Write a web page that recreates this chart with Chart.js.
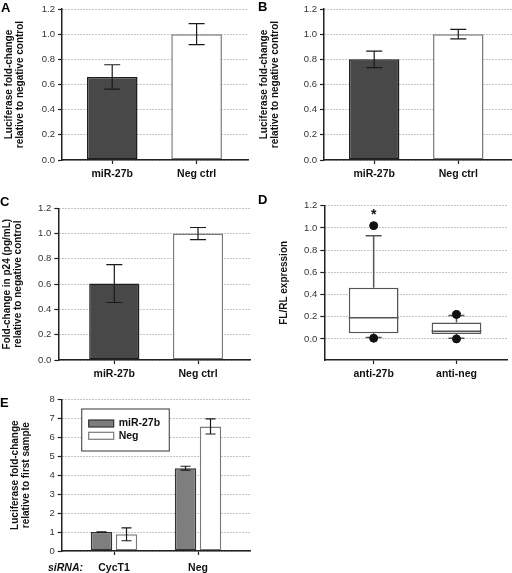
<!DOCTYPE html>
<html>
<head>
<meta charset="utf-8">
<script src="https://cdn.jsdelivr.net/npm/chart.js@4.4.1/dist/chart.umd.min.js"></script>
<style>
  body { margin: 0; background: #fff; }
  #fig { position: relative; width: 512px; height: 573px; font-family: "Liberation Sans", Arial, sans-serif; }
  #fig canvas { position: absolute; }
  .tag { position: absolute; font-weight: bold; font-size: 13px; line-height: 13px; color: #000; }
  .sirna { position: absolute; font-weight: bold; font-style: italic; font-size: 10.5px; line-height: 12px; color: #111; }
</style>
</head>
<body>
<div id="fig">
  <canvas id="chartA" width="256" height="190" style="left:0;top:0"></canvas>
  <canvas id="chartB" width="256" height="190" style="left:256px;top:0"></canvas>
  <canvas id="chartC" width="256" height="190" style="left:0;top:190px"></canvas>
  <canvas id="chartD" width="256" height="190" style="left:256px;top:190px"></canvas>
  <canvas id="chartE" width="256" height="193" style="left:0;top:380px"></canvas>
  <div class="tag" style="left:1px;top:1px">A</div>
  <div class="tag" style="left:258px;top:0px">B</div>
  <div class="tag" style="left:0px;top:195px">C</div>
  <div class="tag" style="left:258px;top:193px">D</div>
  <div class="tag" style="left:0px;top:396px">E</div>
  <div class="sirna" style="left:48px;top:561px">siRNA:</div>
</div>
<script>
// panels A-C: two bars each
const barLabels = ["miR-27b", "Neg ctrl"];
const lucA = [0.66, 1.0];
const lucAErr = [0.097, 0.083];
const lucB = [0.8, 1.0];
const lucBErr = [0.066, 0.038];
const p24C = [0.605, 1.0];
const p24CErr = [0.15, 0.048];
const fracTicks = [0, 0.2, 0.4, 0.6, 0.8, 1.0, 1.2];

// panel D: box plot
const boxLabels = ["anti-27b", "anti-neg"];
const boxLow = [0.012, 0.005];
const boxQ1 = [0.05, 0.045];
const boxMedian = [0.19, 0.07];
const boxQ3 = [0.46, 0.147];
const boxHigh = [0.93, 0.21];
const outlierGroup = [0, 0, 1, 1];
const outlierValue = [1.02, 0.006, 0.22, 0.0];
const starAt = [1.14, null];

// panel E
const siRNALabels = ["CycT1", "Neg"];
const mirValues = [1.0, 4.37];
const mirErr = [0.015, 0.1];
const negValues = [0.88, 6.57];
const negErr = [0.34, 0.4];
const foldTicks = [0, 1, 2, 3, 4, 5, 6, 7, 8];

Chart.defaults.font.family = "'Liberation Sans', Arial, sans-serif";
Chart.defaults.animation = false;

const tickFont = { size: 9.5 };
const catFont = { size: 10.5, weight: "bold" };

function xAxis(labels, min, max, height, pad) {
  return {
    type: "linear",
    offset: false,
    min: min,
    max: max,
    afterBuildTicks: s => { s.ticks = labels.map((_, i) => ({ value: i })); },
    afterFit: s => { s.height = height; },
    grid: { offset: false, drawOnChartArea: false, tickLength: 4, tickColor: "#222", tickWidth: 1.2 },
    border: { color: "#222", width: 1.5, z: 1 },
    ticks: { callback: v => labels[v], padding: pad, font: catFont, color: "#111", maxRotation: 0, autoSkip: false },
  };
}

function yAxis(min, max, tickVals, digits, title, width, titlePad, lh) {
  return {
    min: min,
    max: max,
    afterBuildTicks: s => { s.ticks = tickVals.map(v => ({ value: v })); },
    afterFit: s => { s.width = width; },
    grid: { color: "#8a8a8a", lineWidth: 1, tickLength: 4, tickColor: "#222", tickWidth: 1.2 },
    border: { color: "#222", width: 1.5, dash: [1, 2], z: 1 },
    ticks: { callback: v => v.toFixed(digits), padding: 3, font: tickFont, color: "#333" },
    title: {
      display: true,
      text: title,
      color: "#111",
      font: { size: 10, weight: "bold", lineHeight: lh },
      padding: { top: titlePad, bottom: 0 },
    },
  };
}

const errorBars = {
  id: "errorBars",
  afterDatasetsDraw(chart, args, opts) {
    const ctx = chart.ctx;
    const y = chart.scales.y;
    chart.data.datasets.forEach((ds, di) => {
      if (!ds.errors) return;
      chart.getDatasetMeta(di).data.forEach((bar, i) => {
        const v = ds.data[i].y;
        const top = y.getPixelForValue(v + ds.errors[i]);
        const bot = y.getPixelForValue(v - ds.errors[i]);
        ctx.save();
        ctx.strokeStyle = "#1a1a1a";
        ctx.lineWidth = 1.2;
        ctx.beginPath();
        ctx.moveTo(bar.x, top);
        ctx.lineTo(bar.x, bot);
        ctx.moveTo(bar.x - opts.cap, top);
        ctx.lineTo(bar.x + opts.cap, top);
        ctx.moveTo(bar.x - opts.cap, bot);
        ctx.lineTo(bar.x + opts.cap, bot);
        ctx.stroke();
        ctx.restore();
      });
    });
  },
};

function barPanel(id, values, errors, cfg) {
  return new Chart(document.getElementById(id), {
    type: "bar",
    data: {
      datasets: [{
        data: values.map((v, i) => ({ x: i, y: v })),
        errors: errors,
        backgroundColor: ["#484848", "#ffffff"],
        borderColor: ["#1e1e1e", "#7a7a7a"],
        borderWidth: 1.5,
        borderSkipped: false,
        barPercentage: 1,
        categoryPercentage: 0.6,
      }],
    },
    options: {
      responsive: false,
      layout: { padding: { top: cfg.top, right: cfg.right, left: 0, bottom: 0 } },
      plugins: { legend: { display: false }, tooltip: { enabled: false }, errorBars: { cap: 8 } },
      scales: {
        x: xAxis(barLabels, cfg.xmin, cfg.xmax, cfg.xh, 4),
        y: yAxis(0, 1.2, fracTicks, 1, cfg.title, cfg.yw, cfg.tpad, cfg.lh),
      },
    },
    plugins: [errorBars],
  });
}

barPanel("chartA", lucA, lucAErr, {
  top: 9, right: 8, xmin: -0.595, xmax: 1.609, xh: 30, yw: 62,
  title: ["Luciferase fold-change", "relative to negative control"], tpad: 3.5, lh: 1.1,
});
barPanel("chartB", lucB, lucBErr, {
  top: 9, right: 0, xmin: -0.597, xmax: 1.639, xh: 30, yw: 68,
  title: ["Luciferase fold-change", "relative to negative control"], tpad: 2.8, lh: 1.1,
});
barPanel("chartC", p24C, p24CErr, {
  top: 18.3, right: 6, xmin: -0.669, xmax: 1.621, xh: 20, yw: 58.3,
  title: ["Fold-change in p24 (pg/mL)", "relative to negative control"], tpad: 1.3, lh: 1.15,
});

// box plot whiskers, medians and the asterisk
const boxWhiskers = {
  id: "boxWhiskers",
  afterDatasetDraw(chart, args) {
    if (args.meta.type !== "bar") return;
    const ctx = chart.ctx;
    const y = chart.scales.y;
    args.meta.data.forEach((box, i) => {
      const cx = box.x;
      const half = box.width / 2;
      const cap = 8;
      ctx.save();
      ctx.strokeStyle = "#555";
      ctx.lineWidth = 1.5;
      ctx.beginPath();
      ctx.moveTo(cx - half, y.getPixelForValue(boxMedian[i]));
      ctx.lineTo(cx + half, y.getPixelForValue(boxMedian[i]));
      ctx.moveTo(cx, y.getPixelForValue(boxQ3[i]));
      ctx.lineTo(cx, y.getPixelForValue(boxHigh[i]));
      ctx.moveTo(cx - cap, y.getPixelForValue(boxHigh[i]));
      ctx.lineTo(cx + cap, y.getPixelForValue(boxHigh[i]));
      ctx.moveTo(cx, y.getPixelForValue(boxQ1[i]));
      ctx.lineTo(cx, y.getPixelForValue(boxLow[i]));
      ctx.moveTo(cx - cap, y.getPixelForValue(boxLow[i]));
      ctx.lineTo(cx + cap, y.getPixelForValue(boxLow[i]));
      ctx.stroke();
      ctx.restore();
    });
  },
  afterDatasetsDraw(chart) {
    const ctx = chart.ctx;
    const x = chart.scales.x, y = chart.scales.y;
    starAt.forEach((v, i) => {
      if (v === null) return;
      ctx.save();
      ctx.fillStyle = "#111";
      ctx.font = "bold 14px 'Liberation Sans', Arial, sans-serif";
      ctx.textAlign = "center";
      ctx.textBaseline = "middle";
      ctx.fillText("*", x.getPixelForValue(i), y.getPixelForValue(v) + 3);
      ctx.restore();
    });
  },
};

new Chart(document.getElementById("chartD"), {
  type: "bar",
  data: {
    datasets: [
      {
        type: "scatter",
        order: 0,
        data: outlierValue.map((v, i) => ({ x: outlierGroup[i], y: v })),
        pointRadius: 4,
        backgroundColor: "#111",
        borderColor: "#111",
      },
      {
        type: "bar",
        order: 1,
        data: boxQ1.map((q, i) => ({ x: i, y: [q, boxQ3[i]] })),
        backgroundColor: "#fff",
        borderColor: "#555",
        borderWidth: 1.5,
        borderSkipped: false,
        barPercentage: 1,
        categoryPercentage: 0.6,
      },
    ],
  },
  options: {
    responsive: false,
    layout: { padding: { top: 15.7, right: 0, left: 0, bottom: 0 } },
    plugins: { legend: { display: false }, tooltip: { enabled: false } },
    scales: {
      x: xAxis(boxLabels, -0.596, 1.61, 20, 4),
      y: yAxis(-0.19, 1.2, fracTicks, 1, "FL/RL expression", 68.3, 22.5, 1.1),
    },
  },
  plugins: [boxWhiskers],
});

// legend drawn as a framed box inside the plot
const boxLegend = {
  id: "boxLegend",
  afterDatasetsDraw(chart, args, opts) {
    const ctx = chart.ctx;
    const x0 = chart.chartArea.left + opts.dx;
    const y0 = chart.chartArea.top + opts.dy;
    ctx.save();
    ctx.fillStyle = "#fff";
    ctx.fillRect(x0, y0, opts.w, opts.h);
    ctx.strokeStyle = "#555";
    ctx.lineWidth = 1.2;
    ctx.strokeRect(x0, y0, opts.w, opts.h);
    ctx.font = "bold 10.5px 'Liberation Sans', Arial, sans-serif";
    ctx.textBaseline = "middle";
    chart.data.datasets.forEach((ds, i) => {
      const sy = y0 + 11 + i * 12.3;
      ctx.fillStyle = ds.backgroundColor;
      ctx.fillRect(x0 + 7, sy, 25, 7);
      ctx.strokeStyle = ds.borderColor;
      ctx.lineWidth = 1.2;
      ctx.strokeRect(x0 + 7, sy, 25, 7);
      ctx.fillStyle = "#111";
      ctx.fillText(ds.label, x0 + 37, sy + 3.5);
    });
    ctx.restore();
  },
};

new Chart(document.getElementById("chartE"), {
  type: "bar",
  data: {
    datasets: [
      {
        label: "miR-27b",
        data: mirValues.map((v, i) => ({ x: i, y: v })),
        errors: mirErr,
        backgroundColor: "#7e7e7e",
        borderColor: "#333",
        borderWidth: 1.5,
        borderSkipped: false,
        barPercentage: 0.86,
        categoryPercentage: 0.595,
      },
      {
        label: "Neg",
        data: negValues.map((v, i) => ({ x: i, y: v })),
        errors: negErr,
        backgroundColor: "#ffffff",
        borderColor: "#7a7a7a",
        borderWidth: 1.5,
        borderSkipped: false,
        barPercentage: 0.86,
        categoryPercentage: 0.595,
      },
    ],
  },
  options: {
    responsive: false,
    layout: { padding: { top: 19.3, right: 6, left: 0, bottom: 0 } },
    plugins: {
      legend: { display: false },
      tooltip: { enabled: false },
      errorBars: { cap: 5 },
      boxLegend: { dx: 20, dy: 9.7, w: 87.6, h: 42 },
    },
    scales: {
      x: xAxis(siRNALabels, -0.623, 1.619, 22, 6.5),
      y: yAxis(0, 8, foldTicks, 0, ["Luciferase fold-change", "relative to first sample"], 61.7, 9.5, 1.1),
    },
  },
  plugins: [errorBars, boxLegend],
});
</script>
</body>
</html>
